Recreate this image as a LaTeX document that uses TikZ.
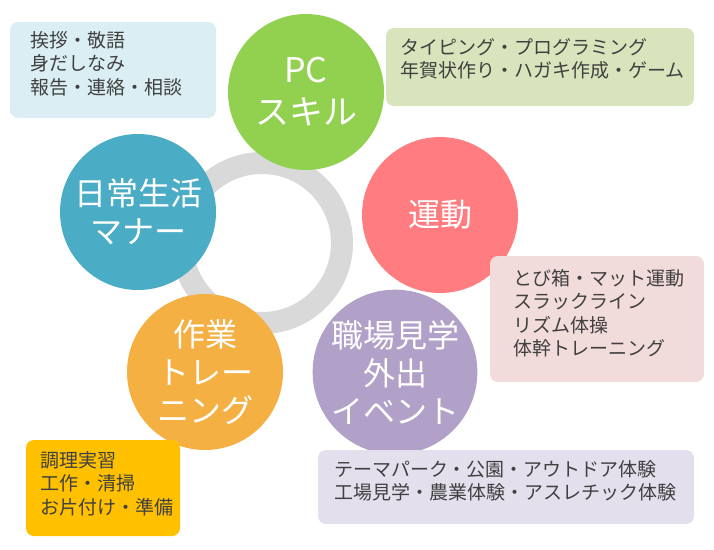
\documentclass[tikz,border=0pt]{standalone}
\usepackage{fontspec}
\setmainfont{Noto Sans CJK JP}
\usetikzlibrary{positioning}

\definecolor{ringgray}{HTML}{D9D9D9}
\definecolor{pcgreen}{HTML}{92D050}
\definecolor{sportpink}{HTML}{FF7C80}
\definecolor{eventpurple}{HTML}{B1A0C7}
\definecolor{workorange}{HTML}{F4B042}
\definecolor{lifeteal}{HTML}{4BACC6}
\definecolor{textgray}{HTML}{404040}
\definecolor{lifebox}{HTML}{DAEEF3}
\definecolor{pcbox}{HTML}{D8E4BC}
\definecolor{sportbox}{HTML}{F2DCDB}
\definecolor{eventbox}{HTML}{E4DFEC}
\definecolor{workbox}{HTML}{FFC000}

\tikzset{
  topic/.style={circle, minimum size=156pt, inner sep=0pt, text=white, align=center,
    font=\fontsize{32}{38}\selectfont},
  infobox/.style={text=textgray, align=left, anchor=north west,
    font=\fontsize{19}{23.5}\selectfont, inner sep=0pt}
}

\begin{document}
\begin{tikzpicture}[x=1pt, y=-1pt]
\useasboundingbox (0,0) rectangle (714,549);

% ring behind the circles
\draw[ringgray, line width=22pt] (262,243) circle (80pt);

% topic circles
\node[topic, fill=pcgreen, font=\fontsize{34}{42}\selectfont] (pc) at (306,92) {PC\\スキル};
\node[topic, fill=sportpink] (sport) at (440,215) {運動};
\node[topic, fill=eventpurple] (event) at (395,372) {職場見学\\外出\\イベント};
\node[topic, fill=workorange] (work) at (205,372) {作業\\トレー\\ニング};
\node[topic, fill=lifeteal] (life) at (138,212) {日常生活\\マナー};

% info boxes
\fill[rounded corners=8pt, lifebox] (10,22) rectangle (216,118);
\node[infobox] (lifetext) at (30,31) {挨拶・敬語\\身だしなみ\\報告・連絡・相談};

\fill[rounded corners=8pt, pcbox] (386,28) rectangle (694,106);
\node[infobox] (pctext) at (400,38) {タイピング・プログラミング\\年賀状作り・ハガキ作成・ゲーム};

\fill[rounded corners=8pt, sportbox] (490,256) rectangle (704,382);
\node[infobox] (sporttext) at (513,269) {とび箱・マット運動\\スラックライン\\リズム体操\\体幹トレーニング};

\fill[rounded corners=8pt, eventbox] (318,450) rectangle (694,524);
\node[infobox] (eventtext) at (334,460) {テーマパーク・公園・アウトドア体験\\工場見学・農業体験・アスレチック体験};

\fill[rounded corners=8pt, workbox] (26,440) rectangle (180,536);
\node[infobox] (worktext) at (40,451) {調理実習\\工作・清掃\\お片付け・準備};

\end{tikzpicture}
\end{document}
